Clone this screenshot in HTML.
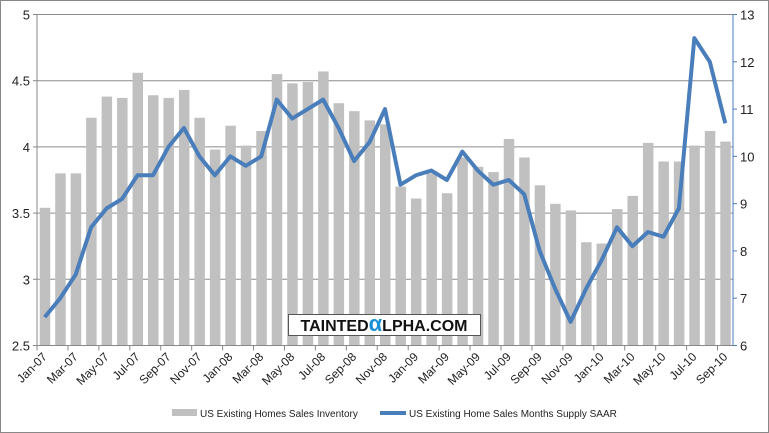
<!DOCTYPE html>
<html><head><meta charset="utf-8"><style>
body{margin:0;background:#fff;font-family:"Liberation Sans",sans-serif}
svg{display:block}
</style></head><body>
<svg id="c" width="769" height="433" font-family="Liberation Sans, sans-serif">
<rect x="0.5" y="0.5" width="768" height="432" fill="#fff" stroke="#888"/>
<g id="grid"></g><g id="bars"></g><g id="axes"></g><g id="line"></g>
<g>
<rect x="288.5" y="314.5" width="192" height="21" fill="#fff" stroke="#555"/>
<text x="384" y="331" text-anchor="middle" font-size="16" font-weight="bold" fill="#111">TAINTED<tspan fill="#1a8fd6" font-size="22">α</tspan>LPHA.COM</text>
</g>
<g>
<rect x="172" y="409" width="25" height="7" fill="#c0c0c0"/>
<text x="200" y="417" font-size="10" fill="#222">US Existing Homes Sales Inventory</text>
<line x1="380" y1="413" x2="406" y2="413" stroke="#4a7ebb" stroke-width="4"/>
<text x="409" y="417" font-size="10" fill="#222">US Existing Home Sales Months Supply SAAR</text>
</g>
</svg>
<script>
const months=["Jan","Feb","Mar","Apr","May","Jun","Jul","Aug","Sep","Oct","Nov","Dec"];
const categories=[];
for(let y=7;y<=10;y++)for(let m=0;m<12;m++){if(y===10&&m>8)break;categories.push(months[m]+"-"+String(y).padStart(2,"0"));}
const inventory=[3.54,3.80,3.80,4.22,4.38,4.37,4.56,4.39,4.37,4.43,4.22,3.98,
4.16,4.01,4.12,4.55,4.48,4.49,4.57,4.33,4.27,4.20,4.17,3.70,
3.61,3.80,3.65,3.92,3.85,3.81,4.06,3.92,3.71,3.57,3.52,3.28,
3.27,3.53,3.63,4.03,3.89,3.89,4.01,4.12,4.04];
const supply=[6.6,7.0,7.5,8.5,8.9,9.1,9.6,9.6,10.2,10.6,10.0,9.6,
10.0,9.8,10.0,11.2,10.8,11.0,11.2,10.6,9.9,10.3,11.0,9.4,
9.6,9.7,9.5,10.1,9.7,9.4,9.5,9.2,8.0,7.2,6.5,7.2,
7.8,8.5,8.1,8.4,8.3,8.9,12.5,12.0,10.7];
const leftTicks=["2.5","3","3.5","4","4.5","5"];
const rightTicks=["6","7","8","9","10","11","12","13"];
const NS="http://www.w3.org/2000/svg";
const X0=37,X1=733,Y0=345.5,Y1=14.5;
const cw=(X1-X0)/categories.length;
const xc=i=>X0+cw*(i+0.5);
const yl=v=>Y0-(v-2.5)/(5-2.5)*(Y0-Y1);
const yr=v=>Y0-(v-6)/(13-6)*(Y0-Y1);
function mk(tag,attrs,parent){const e=document.createElementNS(NS,tag);for(const k in attrs)e.setAttribute(k,attrs[k]);document.getElementById(parent).appendChild(e);return e;}
leftTicks.forEach(t=>{const y=yl(+t);
 if(+t>2.5){const g=mk("line",{x1:X0,x2:X1,y1:y,y2:y,stroke:"#8c8c8c","stroke-width":1},"grid");
 
 }
 mk("line",{x1:X0-4,x2:X0,y1:y,y2:y,stroke:"#888"},"axes");
 const tx=mk("text",{x:X0-7,y:y+5,"text-anchor":"end","font-size":13,fill:"#222"},"axes");tx.textContent=t;
 
 
});
rightTicks.forEach(t=>{const y=yr(+t);
 mk("line",{x1:X1,x2:X1+4,y1:y,y2:y,stroke:"#4a7ebb"},"axes");
 const tx=mk("text",{x:X1+7,y:y+5,"font-size":13,fill:"#222"},"axes");tx.textContent=t;
 
 
});
inventory.forEach((v,i)=>{const y=yl(v);
 const r=mk("rect",{x:xc(i)-5,y:y,width:10.5,height:Y0-y,fill:"#c0c0c0"},"bars");
 
 
});
let al=mk("line",{x1:X0,x2:X0,y1:Y1,y2:Y0,stroke:"#888"},"axes");


let ar=mk("line",{x1:X1,x2:X1,y1:Y1,y2:Y0,stroke:"#4a7ebb"},"axes");


let ab=mk("line",{x1:X0,x2:X1,y1:Y0,y2:Y0,stroke:"#888"},"axes");


categories.forEach((c,i)=>{
 if(i%2===0){const tx=X0+cw*i; mk("line",{x1:tx,x2:tx,y1:Y0,y2:Y0+5,stroke:"#888"},"axes");
  const x=xc(i)+3,y=Y0+12;
  const t=mk("text",{x:x,y:y,"text-anchor":"end","font-size":12,fill:"#222",transform:`rotate(-45 ${x} ${y})`},"axes");
  t.textContent=c;
  
  }
});
const pl=mk("polyline",{points:supply.map((v,i)=>xc(i)+","+yr(v)).join(" "),fill:"none",stroke:"#4a7ebb","stroke-width":4,"stroke-linejoin":"round"},"line");


</script>
</body></html>
